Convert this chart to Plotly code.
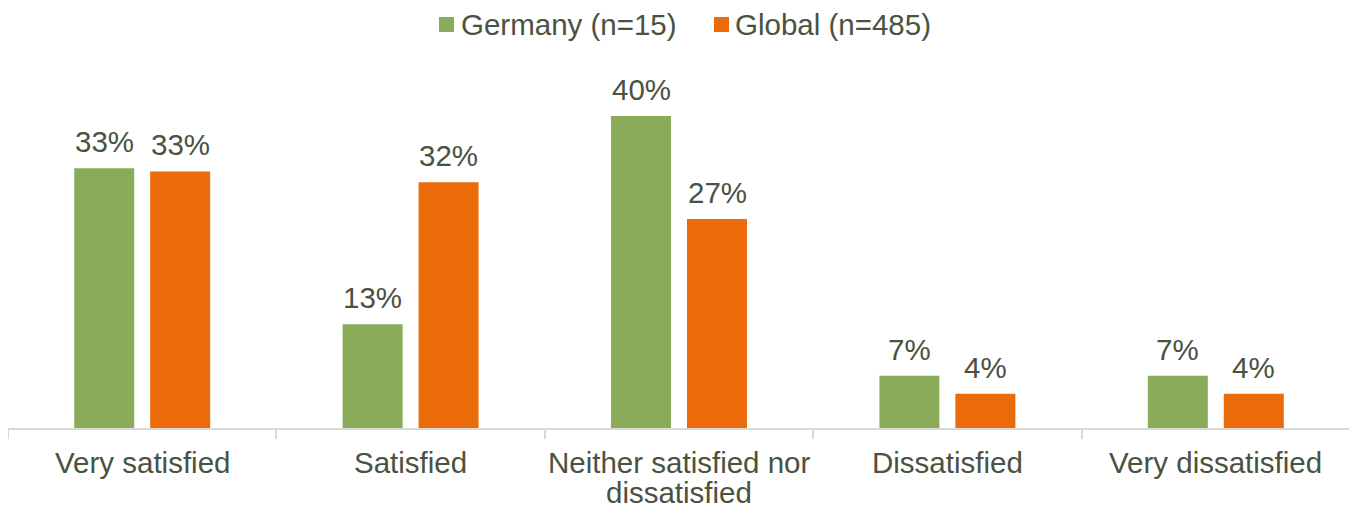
import plotly.graph_objects as go

categories = ["Very satisfied", "Satisfied", "Neither satisfied nor<br>dissatisfied", "Dissatisfied", "Very dissatisfied"]
germany = [33.3, 13.3, 40.0, 6.7, 6.7]
global_ = [32.9, 31.5, 26.8, 4.4, 4.4]
germany_labels = ["33%", "13%", "40%", "7%", "7%"]
global_labels = ["33%", "32%", "27%", "4%", "4%"]
series_names = ["Germany (n=15)", "Global (n=485)"]

GREEN = "#8aac5a"
ORANGE = "#eb6a0a"
TEXT = "#4a5242"
AXIS = "#d9d9d9"
FONT = "Liberation Sans, Arial, sans-serif"
FS = 29.5
LINE_H = 30

# the page body has an 8px default margin, so the figure is drawn 8px in
OFF = 8
W, H = 1357 - OFF, 509 - OFF
L, R = 8 - OFF, 1350 - OFF      # plot area left/right in px (figure coords)
T, B = 40 - OFF, 428 - OFF      # plot area top/bottom in px
PX_PER_PCT = 7.8


def px_x(px):
    return (px - OFF - L) / (R - L)


def px_y(py):
    return (B - (py - OFF)) / (B - T)


fig = go.Figure()
fig.add_trace(go.Bar(name=series_names[0], x=categories, y=germany, marker_color=GREEN,
                     marker_line_width=0, showlegend=False))
fig.add_trace(go.Bar(name=series_names[1], x=categories, y=global_, marker_color=ORANGE,
                     marker_line_width=0, showlegend=False))

annotations = []
for i, cat in enumerate(categories):
    # value labels above bars
    for vals, labs, off in ((germany, germany_labels, -1), (global_, global_labels, 1)):
        annotations.append(dict(
            x=i, y=vals[i], xref="x", yref="y", text=labs[i], showarrow=False,
            xanchor="center", yanchor="bottom", xshift=off * 38, yshift=8,
            font=dict(size=FS, color=TEXT, family=FONT)))
    # category labels below the axis (tight line spacing as in the reference)
    for j, line in enumerate(cat.split("<br>")):
        annotations.append(dict(
            x=i, y=px_y(463), xref="x", yref="paper", text=line, showarrow=False,
            xanchor="center", yanchor="middle", yshift=-j * LINE_H,
            font=dict(size=FS, color=TEXT, family=FONT)))

# legend (manual, to match square size and spacing); positions in page px
legend_items = [(series_names[0], GREEN, 439, 459), (series_names[1], ORANGE, 714, 733)]
shapes = []
for name, col, sq_x, tx_x in legend_items:
    shapes.append(dict(type="rect", xref="paper", yref="paper",
                       xsizemode="pixel", ysizemode="pixel",
                       xanchor=px_x(sq_x), yanchor=px_y(32),
                       x0=0, x1=15, y0=0, y1=15,
                       fillcolor=col, line_width=0))
    annotations.append(dict(x=px_x(tx_x), y=px_y(25), xref="paper", yref="paper",
                            text=name, showarrow=False, xanchor="left", yanchor="middle",
                            font=dict(size=FS, color=TEXT, family=FONT)))

fig.update_layout(
    width=W, height=H,
    margin=dict(l=L, r=W - R, t=T, b=H - B, pad=0, autoexpand=False),
    paper_bgcolor="white", plot_bgcolor="white",
    barmode="group", bargap=0.434, bargroupgap=0.21,
    font=dict(family=FONT, size=FS, color=TEXT),
    showlegend=False,
    annotations=annotations, shapes=shapes,
)
fig.update_xaxes(showline=True, linecolor=AXIS, linewidth=2, ticks="outside",
                 tickson="boundaries", ticklen=9, tickcolor=AXIS, tickwidth=2,
                 showticklabels=False, showgrid=False, automargin=False)
fig.update_yaxes(range=[0, (B - T) / PX_PER_PCT], visible=False, showgrid=False,
                 automargin=False)

fig.write_html("out.html")
